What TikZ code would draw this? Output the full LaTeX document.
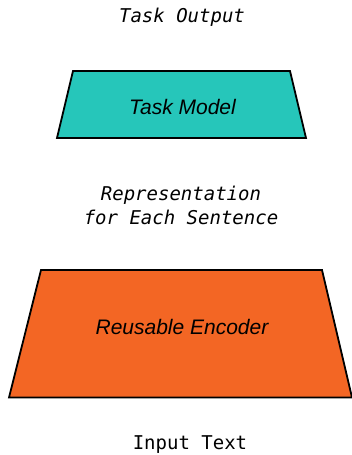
\documentclass[tikz,border=0pt]{standalone}
\usepackage{fontspec}
\setmainfont{Liberation Sans}
\newfontfamily\monofont{DejaVu Sans Mono}
\definecolor{tealfill}{RGB}{38,198,186}
\definecolor{orangefill}{RGB}{243,102,36}
\tikzset{
  block/.style={draw=black, line width=1.8pt, line join=miter},
  blocklabel/.style={font=\fontsize{21}{24}\selectfont\itshape, inner sep=0pt},
  monolabel/.style={font=\monofont\fontsize{19}{24}\selectfont, inner sep=0pt, align=center},
}
\begin{document}
\begin{tikzpicture}[x=1pt,y=-1pt]
\useasboundingbox[fill=white] (0,0) rectangle (351,455);
\fill[tealfill] (73,71) -- (290,71) -- (306,138) -- (57,138) -- cycle;
\draw[block] (73,71) -- (290,71) -- (306,138) -- (57,138) -- cycle;
\fill[orangefill] (41,270) -- (322,270) -- (352,397.5) -- (9,397.5) -- cycle;
\draw[block] (41,270) -- (322,270) -- (352,397.5) -- (9,397.5) -- cycle;
\node[monolabel, font=\monofont\fontsize{19}{24}\selectfont\itshape] (out) at (182,17) {Task Output};
\node[blocklabel] (model) at (182.5,107) {Task Model};
\node[monolabel, font=\monofont\fontsize{19}{24}\selectfont\itshape] (rep) at (181,205) {Representation\\for Each Sentence};
\node[monolabel] (in) at (190,444.5) {Input Text};
\node[blocklabel] (enc) at (182,327) {Reusable Encoder};
\end{tikzpicture}
\end{document}
